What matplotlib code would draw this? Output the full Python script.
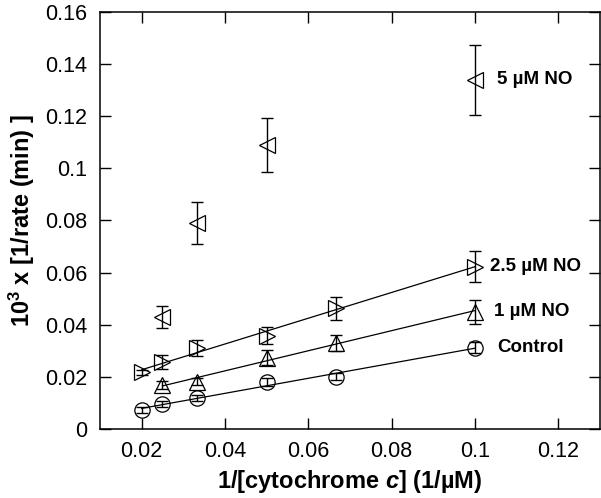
import numpy as np
import matplotlib
matplotlib.use("Agg")
import matplotlib.pyplot as plt

plt.rcParams['font.family'] = ['Liberation Sans', 'DejaVu Sans']
plt.rcParams['mathtext.fontset'] = 'custom'
plt.rcParams['mathtext.rm'] = 'Liberation Sans:bold'
plt.rcParams['mathtext.bf'] = 'Liberation Sans:bold'
plt.rcParams['mathtext.it'] = 'Liberation Sans:italic:bold'

# 1/[cytochrome c] values (1/uM)
x_ctrl = [0.02, 0.025, 0.0333, 0.05, 0.0667, 0.1]
y_ctrl = [0.0073, 0.0096, 0.0118, 0.0179, 0.0201, 0.0312]
e_ctrl = [0.0012, 0.0012, 0.0012, 0.0015, 0.0015, 0.0020]

x_1 = [0.025, 0.0333, 0.05, 0.0667, 0.1]
y_1 = [0.0169, 0.0182, 0.0274, 0.0329, 0.0450]
e_1 = [0.0015, 0.0015, 0.0030, 0.0030, 0.0046]

x_25 = [0.02, 0.025, 0.0333, 0.05, 0.0667, 0.1]
y_25 = [0.0218, 0.0256, 0.0310, 0.0358, 0.0463, 0.0623]
e_25 = [0.0010, 0.0026, 0.0030, 0.0033, 0.0045, 0.0060]

x_5 = [0.025, 0.0333, 0.05, 0.1]
y_5 = [0.0431, 0.0790, 0.1090, 0.1340]
e_5 = [0.0042, 0.0080, 0.0105, 0.0134]

labels = ['Control', '1 \u00b5M NO', '2.5 \u00b5M NO', '5 \u00b5M NO']
label_dx = [0.0053, 0.0046, 0.0036, 0.0053]

fig = plt.figure(figsize=(6.01, 4.98), dpi=100)
ax = fig.add_axes([0.1664, 0.1386, 0.8316, 0.8374])

series = [
    (x_ctrl, y_ctrl, e_ctrl, 'o', True),
    (x_1, y_1, e_1, '^', True),
    (x_25, y_25, e_25, '>', True),
    (x_5, y_5, e_5, '<', False),
]

for (xs, ys, es, m, fit), lab, dx in zip(series, labels, label_dx):
    xs = np.array(xs)
    ys = np.array(ys)
    if fit:
        k, b = np.polyfit(xs, ys, 1)
        xl = np.array([xs.min(), xs.max()])
        ax.plot(xl, k * xl + b, color='black', lw=0.9, zorder=1)
    ax.errorbar(xs, ys, yerr=es, fmt='none', ecolor='black', elinewidth=1.0,
                capsize=4, capthick=1.0, zorder=2)
    ax.plot(xs, ys, m, mfc='none', mec='black', ms=11, mew=0.9, ls='none', zorder=3)
    ax.text(xs[-1] + dx, ys[-1], lab, fontsize=13.5, fontweight='bold',
            va='center', ha='left')

ax.set_xlim(0.01, 0.13)
ax.set_ylim(0, 0.16)
ax.set_xticks([0.02, 0.04, 0.06, 0.08, 0.1, 0.12])
ax.set_xticklabels(['0.02', '0.04', '0.06', '0.08', '0.1', '0.12'])
ax.set_yticks([0, 0.02, 0.04, 0.06, 0.08, 0.1, 0.12, 0.14, 0.16])
ax.set_yticklabels(['0', '0.02', '0.04', '0.06', '0.08', '0.1', '0.12', '0.14', '0.16'])
ax.tick_params(direction='in', length=8, width=1, top=True, right=True,
               labelsize=15.5, pad=9)
for s in ax.spines.values():
    s.set_linewidth(1.1)

ax.set_xlabel('1/[cytochrome $\\mathit{c}$] (1/\u00b5M)', fontsize=17, fontweight='bold', labelpad=4)
ax.set_ylabel('10$^{3}$ x [1/rate (min) ]', fontsize=17, fontweight='bold', labelpad=6)

fig.savefig('out.png', dpi=100)
